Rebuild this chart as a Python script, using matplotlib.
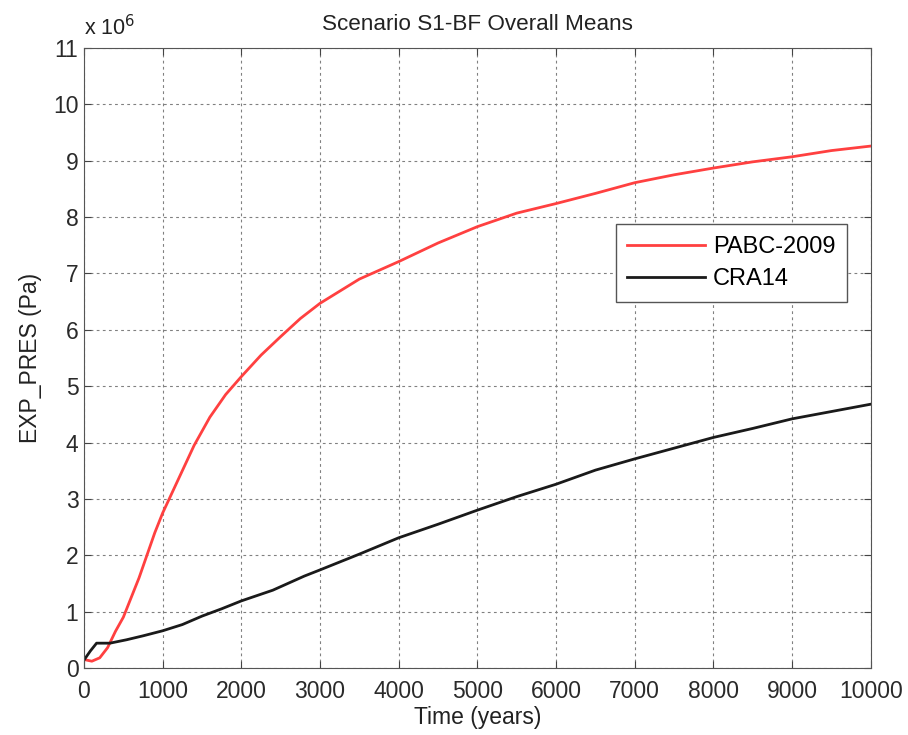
import matplotlib
matplotlib.use('Agg')
import matplotlib.pyplot as plt
from matplotlib.ticker import FuncFormatter

plt.rcParams['font.family'] = ['Liberation Sans', 'DejaVu Sans']

# values, pressure in units of 1e6 Pa
t_pabc = [0, 100, 200, 300, 400, 500, 600, 700, 800, 900, 1000, 1100, 1200, 1400,
          1600, 1800, 2000, 2250, 2500, 2750, 3000, 3500, 4000, 4500, 5000, 5500,
          6000, 6500, 7000, 7500, 8000, 8500, 9000, 9500, 10000]
p_pabc = [0.15, 0.12, 0.18, 0.36, 0.65, 0.90, 1.25, 1.60, 2.00, 2.40, 2.75, 3.05, 3.35, 3.95,
          4.45, 4.85, 5.17, 5.55, 5.88, 6.20, 6.47, 6.90, 7.21, 7.54, 7.83, 8.07,
          8.24, 8.42, 8.61, 8.75, 8.87, 8.98, 9.07, 9.18, 9.26]

t_cra = [0, 80, 160, 330, 540, 750, 1000, 1250, 1500, 1750, 2000, 2400, 2800, 3000,
         3500, 4000, 4500, 5000, 5500, 6000, 6500, 7000, 7500, 8000, 8500, 9000, 9500, 10000]
p_cra = [0.14, 0.30, 0.44, 0.44, 0.50, 0.57, 0.66, 0.77, 0.92, 1.05, 1.19, 1.38, 1.63, 1.74,
         2.02, 2.31, 2.55, 2.80, 3.04, 3.26, 3.51, 3.71, 3.90, 4.09, 4.25, 4.42, 4.55, 4.68]

fig = plt.figure(figsize=(9.08, 7.35), dpi=100)
ax = fig.add_axes([0.0925, 0.0912, 0.8665, 0.8435])

ax.plot(t_pabc, [v * 1e6 for v in p_pabc], color='#ff4040', lw=2.0, label='PABC-2009')
ax.plot(t_cra, [v * 1e6 for v in p_cra], color='#1a1a1a', lw=2.0, label='CRA14')

ax.set_xlim(0, 10000)
ax.set_ylim(0, 11e6)
ax.set_xticks(range(0, 10001, 1000))
ax.set_yticks([i * 1e6 for i in range(12)])
ax.yaxis.set_major_formatter(FuncFormatter(lambda v, p: '%d' % round(v / 1e6)))

ax.grid(True, color='#808080', linestyle=(0, (2.5, 3)), lw=0.8)
ax.tick_params(direction='in', top=True, right=True, length=5, labelsize=16.5, labelcolor='#2a2a2a',
               color='#444444')
ax.tick_params(axis='x', pad=9)
ax.tick_params(axis='y', pad=4)
for s in ax.spines.values():
    s.set_color('#555555')

ax.set_title('Scenario S1-BF Overall Means', fontsize=16.2, color='#222222', pad=13)
ax.set_xlabel('Time (years)', fontsize=16.5, color='#222222', labelpad=2)
ax.set_ylabel('EXP_PRES (Pa)', fontsize=16.5, color='#222222', labelpad=8)
ax.text(0, 1.012, r'x 10$^6$', transform=ax.transAxes, fontsize=15.5, color='#222222',
        ha='left', va='bottom')

leg = ax.legend(loc='upper right', bbox_to_anchor=(0.970, 0.716), borderaxespad=0,
                fontsize=17, handlelength=3.3, handletextpad=0.32, fancybox=False, framealpha=1,
                edgecolor='#555555', borderpad=0.5, labelspacing=0.45)
leg.get_frame().set_linewidth(1.0)

fig.savefig('out.png', dpi=100)
